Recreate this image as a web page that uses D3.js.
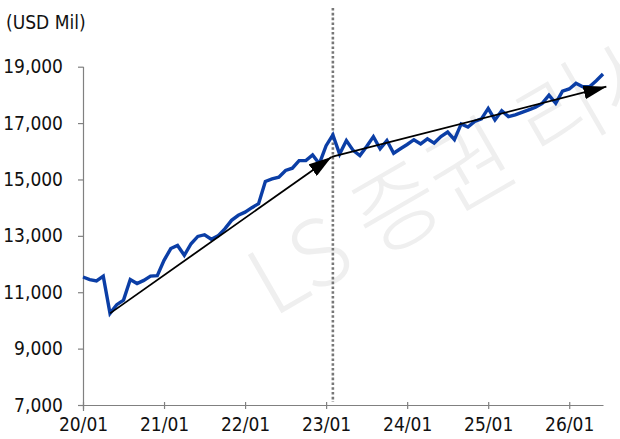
<!DOCTYPE html>
<html>
<head>
<meta charset="utf-8">
<script src="https://cdn.jsdelivr.net/npm/d3@7"></script>
<style>
  html, body { margin: 0; padding: 0; background: #fff; }
  svg { display: block; }
  .lbl { font-family: "Liberation Sans Narrow", "DejaVu Sans Condensed", "Arial Narrow", sans-serif; fill: #111; }
</style>
</head>
<body>
<svg id="chart" width="620" height="439"></svg>
<script>
// Monthly values, 2020/01 – 2026/06 (USD Mil)
const startMonth = "2020/01";
const values = [
  11540, 11450, 11400, 11570, 10250, 10560, 10720, 11450, 11310, 11420, 11570, 11590,
  12130, 12550, 12660, 12310, 12720, 12980, 13040, 12880, 13000, 13250, 13550, 13730,
  13840, 14000, 14140, 14930, 15020, 15080, 15320, 15400, 15670, 15670, 15870, 15560,
  16200, 16580, 15900, 16380, 16030, 15850, 16170, 16520, 16090, 16380, 15930, 16090,
  16240, 16410, 16260, 16440, 16290, 16520, 16680, 16410, 16970, 16860, 17060, 17150,
  17520, 17110, 17440, 17230, 17290, 17380, 17470, 17560, 17700, 17990, 17700, 18130,
  18210, 18410, 18290, 18290, 18500, 18740
];
const xTickMonths = [0, 12, 24, 36, 48, 60, 72];
const xTickLabels = ["20/01", "21/01", "22/01", "23/01", "24/01", "25/01", "26/01"];
const yTicks = [7000, 9000, 11000, 13000, 15000, 17000, 19000];
const unitLabel = "(USD Mil)";
// Regime split (month index) and the two trend arrows [month index, value]
const splitMonth = 37;
const trendArrows = [
  { from: [4, 10250], to: [36.8, 15800] },
  { from: [36.8, 15800], to: [77.5, 18290] }
];
const watermark = "LS 증권 리서치";

const months = d3.range(values.length);
const svg = d3.select("#chart");

const x = d3.scaleLinear().domain([0, values.length - 1]).range([83, 603]);
const y = d3.scaleLinear().domain([7000, 19000]).range([405, 66.7]);

// faint watermark behind the chart
svg.append("text")
  .attr("transform", "translate(273,318) rotate(-30)")
  .attr("font-family", "'Noto Sans CJK KR', sans-serif")
  .attr("font-weight", 300)
  .attr("font-size", 92)
  .attr("fill", "#efefef")
  .text(watermark);

// unit label
svg.append("text").attr("class", "lbl")
  .attr("x", 6).attr("y", 29)
  .attr("font-size", 19)
  .text(unitLabel);

// y axis
const yAxis = svg.append("g")
  .attr("transform", `translate(${x(0)},0)`)
  .call(d3.axisLeft(y).tickValues(yTicks).tickFormat(d3.format(",")).tickSize(5).tickSizeOuter(0).tickPadding(15));
yAxis.selectAll("text").attr("class", "lbl").attr("font-size", 19).attr("fill", "#111");

// x axis
const xAxis = svg.append("g")
  .attr("transform", `translate(0,${y(7000)})`)
  .call(d3.axisBottom(x).tickValues(xTickMonths).tickFormat((d, i) => xTickLabels[i]).tickSize(4).tickSizeOuter(0).tickPadding(9));
xAxis.selectAll(".tick line").attr("y1", -3);
xAxis.selectAll("text").attr("class", "lbl").attr("font-size", 19).attr("fill", "#111");

svg.selectAll(".domain, .tick line").attr("stroke", "#808080").attr("stroke-width", 1.2);
yAxis.select(".domain").attr("d", `M0.5,${y(19000)}V${y(7000) + 6}`);

// dotted divider
svg.append("line")
  .attr("x1", x(splitMonth)).attr("x2", x(splitMonth))
  .attr("y1", 8).attr("y2", y(7000) - 3)
  .attr("stroke", "#777").attr("stroke-width", 2.6)
  .attr("stroke-dasharray", "2.6,2.2");

// data line
svg.append("path")
  .datum(values)
  .attr("fill", "none")
  .attr("stroke", "#0b3ea6")
  .attr("stroke-width", 3.4)
  .attr("stroke-linejoin", "miter")
  .attr("d", d3.line().x((d, i) => x(months[i])).y(d => y(d)));

// trend arrows
svg.append("defs").append("marker")
  .attr("id", "head")
  .attr("viewBox", "0 0 23 14")
  .attr("refX", 23).attr("refY", 7)
  .attr("markerWidth", 23).attr("markerHeight", 14)
  .attr("markerUnits", "userSpaceOnUse")
  .attr("orient", "auto")
  .append("path").attr("d", "M0,0L23,7L0,14Z").attr("fill", "#000");

svg.selectAll(".trend")
  .data(trendArrows)
  .join("line")
  .attr("class", "trend")
  .attr("x1", d => x(d.from[0])).attr("y1", d => y(d.from[1]))
  .attr("x2", d => x(d.to[0])).attr("y2", d => y(d.to[1]))
  .attr("stroke", "#000").attr("stroke-width", 1.8)
  .attr("marker-end", "url(#head)");
</script>
</body>
</html>
